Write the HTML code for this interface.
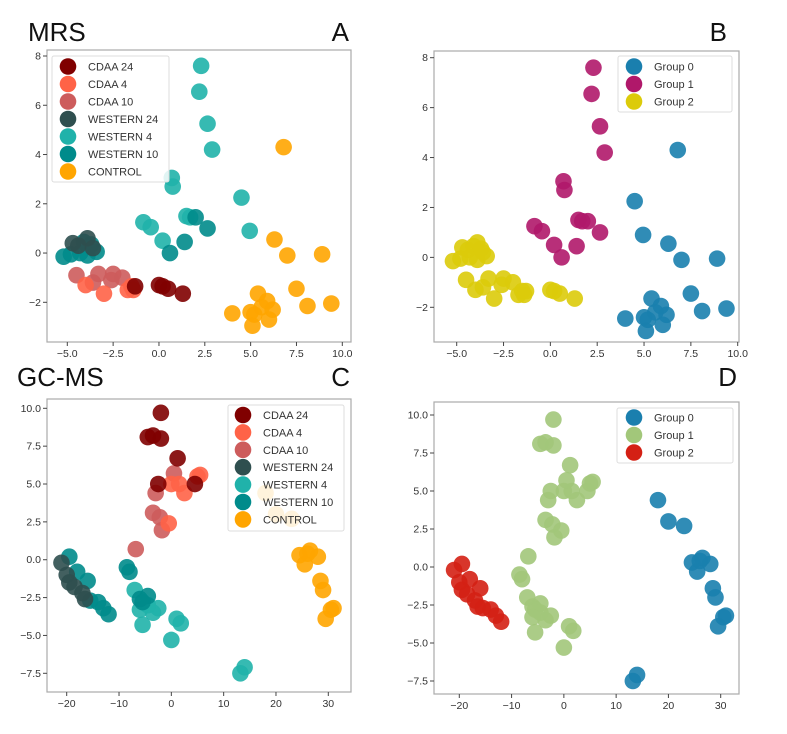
<!DOCTYPE html>
<html><head><meta charset="utf-8"><style>
body{margin:0;background:#fff;}
svg{display:block;font-family:"Liberation Sans","DejaVu Sans",sans-serif;}
</style></head><body>
<svg id="chart" width="787" height="734" viewBox="0 0 787 734" xmlns="http://www.w3.org/2000/svg">
<text x="28" y="41" font-size="26" fill="#111">MRS</text>
<text x="349" y="41" font-size="26" fill="#111" text-anchor="end">A</text>
<text x="727" y="41" font-size="26" fill="#111" text-anchor="end">B</text>
<text x="17" y="386" font-size="26" fill="#111">GC-MS</text>
<text x="350" y="386" font-size="26" fill="#111" text-anchor="end">C</text>
<text x="737" y="386" font-size="26" fill="#111" text-anchor="end">D</text>
</svg>
<script>
// ---- MRS data (panels A & B) ----
const mrsX = [2.3,2.2,2.65,2.9,0.7,0.75,4.5,4.95,-0.85,-0.45,0.2,1.5,1.7,
  2.0,2.65,1.4,0.6,
  6.8,6.3,7.0,8.9,7.5,8.1,9.4,5.4,5.9,6.2,4.0,5.0,5.2,6.0,5.1,5.6,
  -4.7,-3.9,-4.4,-3.6,
  -5.2,-4.8,-4.3,-3.9,-3.4,-4.1,-3.7,
  -4.5,-3.3,-2.5,-2.0,-3.6,-2.6,
  -3.0,-4.0,-1.7,-1.4,-1.5,
  -1.3,0.0,0.5,1.3,0.2];
const mrsY = [7.6,6.55,5.25,4.2,3.05,2.7,2.25,0.9,1.25,1.05,0.5,1.5,1.45,
  1.45,1.0,0.45,0.0,
  4.3,0.55,-0.1,-0.05,-1.45,-2.15,-2.05,-1.65,-1.95,-2.3,-2.45,-2.4,-2.5,-2.7,-2.95,-2.2,
  0.4,0.6,0.3,0.2,
  -0.15,-0.05,0.0,-0.1,0.05,0.45,0.35,
  -0.9,-0.85,-0.85,-1.0,-1.2,-1.1,
  -1.65,-1.3,-1.5,-1.5,-1.35,
  -1.35,-1.3,-1.45,-1.65,-1.35];
const mrsGroup = [4,4,4,4,4,4,4,4,4,4,4,4,4,
  5,5,5,5,
  6,6,6,6,6,6,6,6,6,6,6,6,6,6,6,6,
  3,3,3,3,
  5,5,5,5,5,5,5,
  2,2,2,2,2,2,
  1,1,1,1,1,
  0,0,0,0,0];
const mrsCluster = [1,1,1,1,1,1,0,0,1,1,1,1,1,
  1,1,1,1,
  0,0,0,0,0,0,0,0,0,0,0,0,0,0,0,0,
  2,2,2,2,
  2,2,2,2,2,2,2,
  2,2,2,2,2,2,
  2,2,2,2,2,
  2,2,2,2,2];
// ---- GC-MS data (panels C & D) ----
const gcX = [-2,-4.5,-2,-3.5,1.2,-2.5,4.5,
  0,2.5,5,5.5,1.5,-0.5,
  0.5,-3,-3.5,-2.2,-1.8,-6.8,
  -21,-20,-19.5,-18.5,-17,-16.5,
  -19.5,-18,-16,-15.5,-14,-13,-12,-8.5,-8,-6,-4.5,-5.5,
  -7,-5.5,-3.5,-2.5,-4.5,1,1.8,0,13.2,14,-6,
  18,20,23,24.5,26,26.5,28,25.5,28.5,29,30.5,31,29.5];
const gcY = [9.7,8.1,8.0,8.2,6.7,5.0,5.0,
  5.0,4.4,5.5,5.6,5.0,2.4,
  5.7,4.4,3.1,2.8,1.95,0.7,
  -0.2,-1.0,-1.5,-1.8,-2.2,-2.6,
  0.2,-0.8,-1.4,-2.7,-2.8,-3.2,-3.6,-0.5,-0.8,-2.6,-2.4,-2.8,
  -2.0,-4.3,-3.5,-3.2,-3.0,-3.9,-4.2,-5.3,-7.5,-7.1,-3.3,
  4.4,3.0,2.7,0.3,0.4,0.6,0.2,-0.3,-1.4,-2.0,-3.3,-3.2,-3.9];
const gcGroup = [0,0,0,0,0,0,0,
  1,1,1,1,1,1,
  2,2,2,2,2,2,
  3,3,3,3,3,3,
  5,5,5,5,5,5,5,5,5,5,5,5,
  4,4,4,4,4,4,4,4,4,4,4,
  6,6,6,6,6,6,6,6,6,6,6,6,6];
const gcCluster = [1,1,1,1,1,1,1,
  1,1,1,1,1,1,
  1,1,1,1,1,1,
  2,2,2,2,2,2,
  2,2,2,2,2,2,2,1,1,1,1,1,
  1,1,1,1,1,1,1,1,0,0,1,
  0,0,0,0,0,0,0,0,0,0,0,0,0];
const groupLabels = ["CDAA 24","CDAA 4","CDAA 10","WESTERN 24","WESTERN 4","WESTERN 10","CONTROL"];
const clusterLabels = ["Group 0","Group 1","Group 2"];
const mrsXTicks = [-5,-2.5,0,2.5,5,7.5,10];
const mrsXTickLabels = ["\u22125.0","\u22122.5","0.0","2.5","5.0","7.5","10.0"];
const mrsYTicks = [-2,0,2,4,6,8];
const mrsYTickLabels = ["\u22122","0","2","4","6","8"];
const gcXTicks = [-20,-10,0,10,20,30];
const gcXTickLabels = ["\u221220","\u221210","0","10","20","30"];
const gcYTicks = [-7.5,-5,-2.5,0,2.5,5,7.5,10];
const gcYTickLabels = ["\u22127.5","\u22125.0","\u22122.5","0.0","2.5","5.0","7.5","10.0"];

const groupColors = ["#800000","#ff6347","#cd5c5c","#2f4f4f","#20b2aa","#008b8b","#ffa500"];
const clusterColorsB = ["#1a7fae","#b0186a","#dccb0a"];
const clusterColorsD = ["#1a7fae","#a2c77a","#d42014"];
const NS = "http://www.w3.org/2000/svg";
const svg = document.getElementById("chart");
function mk(tag, attrs, parent){const e=document.createElementNS(NS,tag);for(const k in attrs)e.setAttribute(k,attrs[k]);(parent||svg).appendChild(e);return e;}

function panel(cfg){
  const g = mk("g",{});
  
  
  const sx = v => cfg.px0 + (v - cfg.vx0) * (cfg.px1 - cfg.px0) / (cfg.vx1 - cfg.vx0);
  const sy = v => cfg.py0 + (v - cfg.vy0) * (cfg.py1 - cfg.py0) / (cfg.vy1 - cfg.vy0);
  const fr = mk("rect",{x:cfg.fx0,y:cfg.fy0,width:cfg.fx1-cfg.fx0,height:cfg.fy1-cfg.fy0,fill:"#fff",stroke:"#aaa","stroke-width":1.2},g);
  
  
  cfg.xt.forEach((t,i)=>{
    const x=sx(t);
    mk("line",{x1:x,x2:x,y1:cfg.fy1,y2:cfg.fy1+4,stroke:"#444","stroke-width":1},g);
    const tx=mk("text",{x:x,y:cfg.fy1+15,"font-size":10.5,fill:"#333","text-anchor":"middle"},g);
    tx.textContent=cfg.xl[i];
    
    
  });
  cfg.yt.forEach((t,i)=>{
    const y=sy(t);
    mk("line",{x1:cfg.fx0-4,x2:cfg.fx0,y1:y,y2:y,stroke:"#444","stroke-width":1},g);
    const tx=mk("text",{x:cfg.fx0-6,y:y+3.5,"font-size":10.5,fill:"#333","text-anchor":"end"},g);
    tx.textContent=cfg.yl[i];
    
    
  });
  const ord = cfg.order;
  ord.forEach(c=>{
    cfg.X.forEach((xv,i)=>{
      if(cfg.cat[i]!==c) return;
      const p=mk("circle",{cx:sx(xv),cy:sy(cfg.Y[i]),r:8.3,fill:cfg.colors[c],"fill-opacity":0.9},g);
      
      
    });
  });
  const L=cfg.leg;
  const lg=mk("g",{},g);
  
  
  mk("rect",{x:L.x,y:L.y,width:L.w,height:L.h,rx:2,fill:"#fff","fill-opacity":0.85,stroke:"#ddd","stroke-width":1},lg);
  cfg.labels.forEach((lab,i)=>{
    const y=L.y0+i*L.dy;
    const e=mk("g",{},lg);
    
    
    mk("circle",{cx:L.mx,cy:y,r:8.3,fill:cfg.colors[i]},e);
    const t=mk("text",{x:L.tx,y:y+4,"font-size":11,fill:"#333"},e);
    t.textContent=lab;
  });
}

panel({name:"panel-a",fx0:47,fx1:351,fy0:50,fy1:342,px0:67.3,px1:342.3,vx0:-5,vx1:10,py0:56,py1:302.3,vy0:8,vy1:-2,
  xt:mrsXTicks,xl:mrsXTickLabels,yt:mrsYTicks,yl:mrsYTickLabels,X:mrsX,Y:mrsY,cat:mrsGroup,
  colors:groupColors,labels:groupLabels,order:[6,4,5,3,2,1,0],
  leg:{x:52,y:56,w:117,h:126,y0:66.5,dy:17.5,mx:68,tx:88}});
panel({name:"panel-b",fx0:434,fx1:739,fy0:51,fy1:342,px0:456.7,px1:737.7,vx0:-5,vx1:10,py0:57.7,py1:307.3,vy0:8,vy1:-2,
  xt:mrsXTicks,xl:mrsXTickLabels,yt:mrsYTicks,yl:mrsYTickLabels,X:mrsX,Y:mrsY,cat:mrsCluster,
  colors:clusterColorsB,labels:clusterLabels,order:[0,1,2],
  leg:{x:618,y:56,w:114,h:56,y0:66.5,dy:17.5,mx:634,tx:654}});
panel({name:"panel-c",fx0:47,fx1:351,fy0:399,fy1:692,px0:66.7,px1:328.3,vx0:-20,vx1:30,py0:408.3,py1:673.3,vy0:10,vy1:-7.5,
  xt:gcXTicks,xl:gcXTickLabels,yt:gcYTicks,yl:gcYTickLabels,X:gcX,Y:gcY,cat:gcGroup,
  colors:groupColors,labels:groupLabels,order:[6,4,5,3,2,1,0],
  leg:{x:228,y:405,w:116,h:126,y0:415,dy:17.4,mx:243,tx:263}});
panel({name:"panel-d",fx0:434,fx1:739,fy0:402,fy1:694,px0:459.3,px1:720.7,vx0:-20,vx1:30,py0:415,py1:681,vy0:10,vy1:-7.5,
  xt:gcXTicks,xl:gcXTickLabels,yt:gcYTicks,yl:gcYTickLabels,X:gcX,Y:gcY,cat:gcCluster,
  colors:clusterColorsD,labels:clusterLabels,order:[0,1,2],
  leg:{x:617,y:408,w:116,h:55,y0:417.5,dy:17.5,mx:634,tx:654}});
</script>
</body></html>
